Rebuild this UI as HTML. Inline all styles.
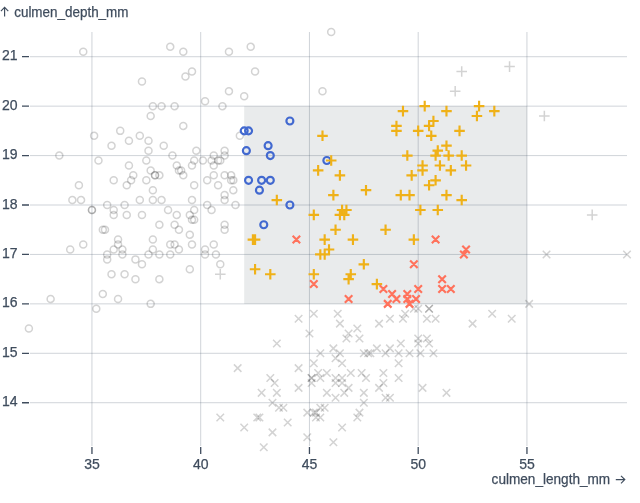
<!DOCTYPE html><html><head><meta charset="utf-8"><style>html,body{margin:0;padding:0;background:#fff;width:640px;height:503px;overflow:hidden}</style></head><body><svg width="640" height="503" viewBox="0 0 640 503" style="display:block;will-change:transform;font-family:'Liberation Sans',sans-serif">
<rect width="640" height="503" fill="#fff"/>
<rect x="244.20" y="106.15" width="282.75" height="197.72" fill="#e9ebec"/>
<path d="M30,402.73H627M30,353.30H627M30,303.87H627M30,254.44H627M30,205.01H627M30,155.58H627M30,106.15H627M30,56.72H627M91.95,32V446M200.70,32V446M309.45,32V446M418.20,32V446M526.95,32V446" stroke="#4b5a6c" stroke-opacity="0.26" fill="none"/>
<path d="M22,402.73H29M22,353.30H29M22,303.87H29M22,254.44H29M22,205.01H29M22,155.58H29M22,106.15H29M22,56.72H29M91.95,447V454M200.70,447V454M309.45,447V454M418.20,447V454M526.95,447V454" stroke="#3f4c5d" stroke-width="1.3" fill="none"/>
<text x="17.5" y="406.33" text-anchor="end" font-size="14" fill="#3f4c5d" stroke="#3f4c5d" stroke-width="0.25">14</text>
<text x="17.5" y="356.90" text-anchor="end" font-size="14" fill="#3f4c5d" stroke="#3f4c5d" stroke-width="0.25">15</text>
<text x="17.5" y="307.47" text-anchor="end" font-size="14" fill="#3f4c5d" stroke="#3f4c5d" stroke-width="0.25">16</text>
<text x="17.5" y="258.04" text-anchor="end" font-size="14" fill="#3f4c5d" stroke="#3f4c5d" stroke-width="0.25">17</text>
<text x="17.5" y="208.61" text-anchor="end" font-size="14" fill="#3f4c5d" stroke="#3f4c5d" stroke-width="0.25">18</text>
<text x="17.5" y="159.18" text-anchor="end" font-size="14" fill="#3f4c5d" stroke="#3f4c5d" stroke-width="0.25">19</text>
<text x="17.5" y="109.75" text-anchor="end" font-size="14" fill="#3f4c5d" stroke="#3f4c5d" stroke-width="0.25">20</text>
<text x="17.5" y="60.32" text-anchor="end" font-size="14" fill="#3f4c5d" stroke="#3f4c5d" stroke-width="0.25">21</text>
<text x="91.95" y="468.6" text-anchor="middle" font-size="14" fill="#3f4c5d" stroke="#3f4c5d" stroke-width="0.25">35</text>
<text x="200.70" y="468.6" text-anchor="middle" font-size="14" fill="#3f4c5d" stroke="#3f4c5d" stroke-width="0.25">40</text>
<text x="309.45" y="468.6" text-anchor="middle" font-size="14" fill="#3f4c5d" stroke="#3f4c5d" stroke-width="0.25">45</text>
<text x="418.20" y="468.6" text-anchor="middle" font-size="14" fill="#3f4c5d" stroke="#3f4c5d" stroke-width="0.25">50</text>
<text x="526.95" y="468.6" text-anchor="middle" font-size="14" fill="#3f4c5d" stroke="#3f4c5d" stroke-width="0.25">55</text>
<text x="14.2" y="16.5" font-size="14" fill="#3f4c5d" stroke="#3f4c5d" stroke-width="0.25" textLength="114.3" lengthAdjust="spacingAndGlyphs">culmen_depth_mm</text>
<path d="M4.6,16.6V7.4M0.9,11.1L4.6,7.4L8.3,11.1" stroke="#3f4c5d" stroke-width="1.15" fill="none"/>
<text x="491.6" y="484.0" font-size="14" fill="#3f4c5d" stroke="#3f4c5d" stroke-width="0.25" textLength="118.6" lengthAdjust="spacingAndGlyphs">culmen_length_mm</text>
<path d="M615.8,479.6H624.8M621,475.8L624.8,479.6L621,483.4" stroke="#3f4c5d" stroke-width="1.15" fill="none"/>
<g fill="none" stroke="#222" stroke-opacity="0.2" stroke-width="1.5"><path d="M184.63,170.41A3.5,3.5,0,1,1,177.63,170.41A3.5,3.5,0,1,1,184.63,170.41Z"/><path d="M193.32,234.67A3.5,3.5,0,1,1,186.32,234.67A3.5,3.5,0,1,1,193.32,234.67Z"/><path d="M210.72,205.01A3.5,3.5,0,1,1,203.72,205.01A3.5,3.5,0,1,1,210.72,205.01Z"/><path d="M132.43,140.75A3.5,3.5,0,1,1,125.43,140.75A3.5,3.5,0,1,1,132.43,140.75Z"/><path d="M188.97,76.49A3.5,3.5,0,1,1,181.97,76.49A3.5,3.5,0,1,1,188.97,76.49Z"/><path d="M180.27,214.90A3.5,3.5,0,1,1,173.27,214.90A3.5,3.5,0,1,1,180.27,214.90Z"/><path d="M186.80,125.92A3.5,3.5,0,1,1,179.80,125.92A3.5,3.5,0,1,1,186.80,125.92Z"/><path d="M75.88,200.07A3.5,3.5,0,1,1,68.88,200.07A3.5,3.5,0,1,1,75.88,200.07Z"/><path d="M247.70,96.26A3.5,3.5,0,1,1,240.70,96.26A3.5,3.5,0,1,1,247.70,96.26Z"/><path d="M156.35,249.50A3.5,3.5,0,1,1,149.35,249.50A3.5,3.5,0,1,1,156.35,249.50Z"/><path d="M156.35,239.61A3.5,3.5,0,1,1,149.35,239.61A3.5,3.5,0,1,1,156.35,239.61Z"/><path d="M228.13,224.78A3.5,3.5,0,1,1,221.13,224.78A3.5,3.5,0,1,1,228.13,224.78Z"/><path d="M173.75,46.83A3.5,3.5,0,1,1,166.75,46.83A3.5,3.5,0,1,1,173.75,46.83Z"/><path d="M86.75,51.78A3.5,3.5,0,1,1,79.75,51.78A3.5,3.5,0,1,1,86.75,51.78Z"/><path d="M130.25,214.90A3.5,3.5,0,1,1,123.25,214.90A3.5,3.5,0,1,1,130.25,214.90Z"/><path d="M175.93,155.58A3.5,3.5,0,1,1,168.93,155.58A3.5,3.5,0,1,1,175.93,155.58Z"/><path d="M258.57,71.55A3.5,3.5,0,1,1,251.57,71.55A3.5,3.5,0,1,1,258.57,71.55Z"/><path d="M82.40,185.24A3.5,3.5,0,1,1,75.40,185.24A3.5,3.5,0,1,1,82.40,185.24Z"/><path d="M334.70,32.01A3.5,3.5,0,1,1,327.70,32.01A3.5,3.5,0,1,1,334.70,32.01Z"/><path d="M156.35,190.18A3.5,3.5,0,1,1,149.35,190.18A3.5,3.5,0,1,1,156.35,190.18Z"/><path d="M154.18,170.41A3.5,3.5,0,1,1,147.18,170.41A3.5,3.5,0,1,1,154.18,170.41Z"/><path d="M115.02,145.69A3.5,3.5,0,1,1,108.02,145.69A3.5,3.5,0,1,1,115.02,145.69Z"/><path d="M165.05,200.07A3.5,3.5,0,1,1,158.05,200.07A3.5,3.5,0,1,1,165.05,200.07Z"/><path d="M178.10,244.55A3.5,3.5,0,1,1,171.10,244.55A3.5,3.5,0,1,1,178.10,244.55Z"/><path d="M101.97,160.52A3.5,3.5,0,1,1,94.97,160.52A3.5,3.5,0,1,1,101.97,160.52Z"/><path d="M217.25,175.35A3.5,3.5,0,1,1,210.25,175.35A3.5,3.5,0,1,1,217.25,175.35Z"/><path d="M215.07,209.95A3.5,3.5,0,1,1,208.07,209.95A3.5,3.5,0,1,1,215.07,209.95Z"/><path d="M158.52,175.35A3.5,3.5,0,1,1,151.52,175.35A3.5,3.5,0,1,1,158.52,175.35Z"/><path d="M215.07,160.52A3.5,3.5,0,1,1,208.07,160.52A3.5,3.5,0,1,1,215.07,160.52Z"/><path d="M193.32,269.27A3.5,3.5,0,1,1,186.32,269.27A3.5,3.5,0,1,1,193.32,269.27Z"/><path d="M143.30,200.07A3.5,3.5,0,1,1,136.30,200.07A3.5,3.5,0,1,1,143.30,200.07Z"/><path d="M193.32,214.90A3.5,3.5,0,1,1,186.32,214.90A3.5,3.5,0,1,1,193.32,214.90Z"/><path d="M223.77,160.52A3.5,3.5,0,1,1,216.77,160.52A3.5,3.5,0,1,1,223.77,160.52Z"/><path d="M125.90,254.44A3.5,3.5,0,1,1,118.90,254.44A3.5,3.5,0,1,1,125.90,254.44Z"/><path d="M186.80,51.78A3.5,3.5,0,1,1,179.80,51.78A3.5,3.5,0,1,1,186.80,51.78Z"/><path d="M178.10,106.15A3.5,3.5,0,1,1,171.10,106.15A3.5,3.5,0,1,1,178.10,106.15Z"/><path d="M152.00,140.75A3.5,3.5,0,1,1,145.00,140.75A3.5,3.5,0,1,1,152.00,140.75Z"/><path d="M199.85,150.64A3.5,3.5,0,1,1,192.85,150.64A3.5,3.5,0,1,1,199.85,150.64Z"/><path d="M128.07,205.01A3.5,3.5,0,1,1,121.07,205.01A3.5,3.5,0,1,1,128.07,205.01Z"/><path d="M221.60,185.24A3.5,3.5,0,1,1,214.60,185.24A3.5,3.5,0,1,1,221.60,185.24Z"/><path d="M117.20,180.30A3.5,3.5,0,1,1,110.20,180.30A3.5,3.5,0,1,1,117.20,180.30Z"/><path d="M138.95,259.38A3.5,3.5,0,1,1,131.95,259.38A3.5,3.5,0,1,1,138.95,259.38Z"/><path d="M195.50,165.47A3.5,3.5,0,1,1,188.50,165.47A3.5,3.5,0,1,1,195.50,165.47Z"/><path d="M228.13,155.58A3.5,3.5,0,1,1,221.13,155.58A3.5,3.5,0,1,1,228.13,155.58Z"/><path d="M149.82,160.52A3.5,3.5,0,1,1,142.82,160.52A3.5,3.5,0,1,1,149.82,160.52Z"/><path d="M117.20,209.95A3.5,3.5,0,1,1,110.20,209.95A3.5,3.5,0,1,1,117.20,209.95Z"/><path d="M254.22,46.83A3.5,3.5,0,1,1,247.22,46.83A3.5,3.5,0,1,1,254.22,46.83Z"/><path d="M195.50,219.84A3.5,3.5,0,1,1,188.50,219.84A3.5,3.5,0,1,1,195.50,219.84Z"/><path d="M206.38,160.52A3.5,3.5,0,1,1,199.38,160.52A3.5,3.5,0,1,1,206.38,160.52Z"/><path d="M95.45,209.95A3.5,3.5,0,1,1,88.45,209.95A3.5,3.5,0,1,1,95.45,209.95Z"/><path d="M84.57,200.07A3.5,3.5,0,1,1,77.57,200.07A3.5,3.5,0,1,1,84.57,200.07Z"/><path d="M234.65,175.35A3.5,3.5,0,1,1,227.65,175.35A3.5,3.5,0,1,1,234.65,175.35Z"/><path d="M182.45,229.73A3.5,3.5,0,1,1,175.45,229.73A3.5,3.5,0,1,1,182.45,229.73Z"/><path d="M217.25,165.47A3.5,3.5,0,1,1,210.25,165.47A3.5,3.5,0,1,1,217.25,165.47Z"/><path d="M128.07,274.21A3.5,3.5,0,1,1,121.07,274.21A3.5,3.5,0,1,1,128.07,274.21Z"/><path d="M152.00,150.64A3.5,3.5,0,1,1,145.00,150.64A3.5,3.5,0,1,1,152.00,150.64Z"/><path d="M110.68,259.38A3.5,3.5,0,1,1,103.68,259.38A3.5,3.5,0,1,1,110.68,259.38Z"/><path d="M232.47,51.78A3.5,3.5,0,1,1,225.47,51.78A3.5,3.5,0,1,1,232.47,51.78Z"/><path d="M152.00,254.44A3.5,3.5,0,1,1,145.00,254.44A3.5,3.5,0,1,1,152.00,254.44Z"/><path d="M228.13,195.12A3.5,3.5,0,1,1,221.13,195.12A3.5,3.5,0,1,1,228.13,195.12Z"/><path d="M125.90,249.50A3.5,3.5,0,1,1,118.90,249.50A3.5,3.5,0,1,1,125.90,249.50Z"/><path d="M239.00,205.01A3.5,3.5,0,1,1,232.00,205.01A3.5,3.5,0,1,1,239.00,205.01Z"/><path d="M106.32,293.98A3.5,3.5,0,1,1,99.32,293.98A3.5,3.5,0,1,1,106.32,293.98Z"/><path d="M228.13,150.64A3.5,3.5,0,1,1,221.13,150.64A3.5,3.5,0,1,1,228.13,150.64Z"/><path d="M115.02,274.21A3.5,3.5,0,1,1,108.02,274.21A3.5,3.5,0,1,1,115.02,274.21Z"/><path d="M243.35,135.81A3.5,3.5,0,1,1,236.35,135.81A3.5,3.5,0,1,1,243.35,135.81Z"/><path d="M62.82,155.58A3.5,3.5,0,1,1,55.82,155.58A3.5,3.5,0,1,1,62.82,155.58Z"/><path d="M197.68,185.24A3.5,3.5,0,1,1,190.68,185.24A3.5,3.5,0,1,1,197.68,185.24Z"/><path d="M195.50,244.55A3.5,3.5,0,1,1,188.50,244.55A3.5,3.5,0,1,1,195.50,244.55Z"/><path d="M106.32,229.73A3.5,3.5,0,1,1,99.32,229.73A3.5,3.5,0,1,1,106.32,229.73Z"/><path d="M223.77,264.33A3.5,3.5,0,1,1,216.77,264.33A3.5,3.5,0,1,1,223.77,264.33Z"/><path d="M143.30,135.81A3.5,3.5,0,1,1,136.30,135.81A3.5,3.5,0,1,1,143.30,135.81Z"/><path d="M121.55,298.93A3.5,3.5,0,1,1,114.55,298.93A3.5,3.5,0,1,1,121.55,298.93Z"/><path d="M86.75,244.55A3.5,3.5,0,1,1,79.75,244.55A3.5,3.5,0,1,1,86.75,244.55Z"/><path d="M132.43,165.47A3.5,3.5,0,1,1,125.43,165.47A3.5,3.5,0,1,1,132.43,165.47Z"/><path d="M97.63,135.81A3.5,3.5,0,1,1,90.63,135.81A3.5,3.5,0,1,1,97.63,135.81Z"/><path d="M145.47,214.90A3.5,3.5,0,1,1,138.47,214.90A3.5,3.5,0,1,1,145.47,214.90Z"/><path d="M232.47,91.32A3.5,3.5,0,1,1,225.47,91.32A3.5,3.5,0,1,1,232.47,91.32Z"/><path d="M123.72,130.87A3.5,3.5,0,1,1,116.72,130.87A3.5,3.5,0,1,1,123.72,130.87Z"/><path d="M136.77,175.35A3.5,3.5,0,1,1,129.77,175.35A3.5,3.5,0,1,1,136.77,175.35Z"/><path d="M167.22,145.69A3.5,3.5,0,1,1,160.22,145.69A3.5,3.5,0,1,1,167.22,145.69Z"/><path d="M180.27,165.47A3.5,3.5,0,1,1,173.27,165.47A3.5,3.5,0,1,1,180.27,165.47Z"/><path d="M110.68,205.01A3.5,3.5,0,1,1,103.68,205.01A3.5,3.5,0,1,1,110.68,205.01Z"/><path d="M228.13,200.07A3.5,3.5,0,1,1,221.13,200.07A3.5,3.5,0,1,1,228.13,200.07Z"/><path d="M73.70,249.50A3.5,3.5,0,1,1,66.70,249.50A3.5,3.5,0,1,1,73.70,249.50Z"/><path d="M195.50,200.07A3.5,3.5,0,1,1,188.50,200.07A3.5,3.5,0,1,1,195.50,200.07Z"/><path d="M121.55,239.61A3.5,3.5,0,1,1,114.55,239.61A3.5,3.5,0,1,1,121.55,239.61Z"/><path d="M221.60,160.52A3.5,3.5,0,1,1,214.60,160.52A3.5,3.5,0,1,1,221.60,160.52Z"/><path d="M162.88,175.35A3.5,3.5,0,1,1,155.88,175.35A3.5,3.5,0,1,1,162.88,175.35Z"/><path d="M210.72,180.30A3.5,3.5,0,1,1,203.72,180.30A3.5,3.5,0,1,1,210.72,180.30Z"/><path d="M54.13,298.93A3.5,3.5,0,1,1,47.13,298.93A3.5,3.5,0,1,1,54.13,298.93Z"/><path d="M95.45,209.95A3.5,3.5,0,1,1,88.45,209.95A3.5,3.5,0,1,1,95.45,209.95Z"/><path d="M225.95,106.15A3.5,3.5,0,1,1,218.95,106.15A3.5,3.5,0,1,1,225.95,106.15Z"/><path d="M154.18,303.87A3.5,3.5,0,1,1,147.18,303.87A3.5,3.5,0,1,1,154.18,303.87Z"/><path d="M156.35,106.15A3.5,3.5,0,1,1,149.35,106.15A3.5,3.5,0,1,1,156.35,106.15Z"/><path d="M158.52,175.35A3.5,3.5,0,1,1,151.52,175.35A3.5,3.5,0,1,1,158.52,175.35Z"/><path d="M197.68,160.52A3.5,3.5,0,1,1,190.68,160.52A3.5,3.5,0,1,1,197.68,160.52Z"/><path d="M173.75,244.55A3.5,3.5,0,1,1,166.75,244.55A3.5,3.5,0,1,1,173.75,244.55Z"/><path d="M165.05,106.15A3.5,3.5,0,1,1,158.05,106.15A3.5,3.5,0,1,1,165.05,106.15Z"/><path d="M162.88,254.44A3.5,3.5,0,1,1,155.88,254.44A3.5,3.5,0,1,1,162.88,254.44Z"/><path d="M162.88,279.15A3.5,3.5,0,1,1,155.88,279.15A3.5,3.5,0,1,1,162.88,279.15Z"/><path d="M326.00,91.32A3.5,3.5,0,1,1,319.00,91.32A3.5,3.5,0,1,1,326.00,91.32Z"/><path d="M197.68,219.84A3.5,3.5,0,1,1,190.68,219.84A3.5,3.5,0,1,1,197.68,219.84Z"/><path d="M195.50,71.55A3.5,3.5,0,1,1,188.50,71.55A3.5,3.5,0,1,1,195.50,71.55Z"/><path d="M173.75,254.44A3.5,3.5,0,1,1,166.75,254.44A3.5,3.5,0,1,1,173.75,254.44Z"/><path d="M145.47,81.44A3.5,3.5,0,1,1,138.47,81.44A3.5,3.5,0,1,1,145.47,81.44Z"/><path d="M110.68,254.44A3.5,3.5,0,1,1,103.68,254.44A3.5,3.5,0,1,1,110.68,254.44Z"/><path d="M228.13,175.35A3.5,3.5,0,1,1,221.13,175.35A3.5,3.5,0,1,1,228.13,175.35Z"/><path d="M121.55,244.55A3.5,3.5,0,1,1,114.55,244.55A3.5,3.5,0,1,1,121.55,244.55Z"/><path d="M154.18,116.04A3.5,3.5,0,1,1,147.18,116.04A3.5,3.5,0,1,1,154.18,116.04Z"/><path d="M208.55,254.44A3.5,3.5,0,1,1,201.55,254.44A3.5,3.5,0,1,1,208.55,254.44Z"/><path d="M234.65,180.30A3.5,3.5,0,1,1,227.65,180.30A3.5,3.5,0,1,1,234.65,180.30Z"/><path d="M99.80,308.81A3.5,3.5,0,1,1,92.80,308.81A3.5,3.5,0,1,1,99.80,308.81Z"/><path d="M217.25,155.58A3.5,3.5,0,1,1,210.25,155.58A3.5,3.5,0,1,1,217.25,155.58Z"/><path d="M178.10,224.78A3.5,3.5,0,1,1,171.10,224.78A3.5,3.5,0,1,1,178.10,224.78Z"/><path d="M236.82,190.18A3.5,3.5,0,1,1,229.82,190.18A3.5,3.5,0,1,1,236.82,190.18Z"/><path d="M182.45,249.50A3.5,3.5,0,1,1,175.45,249.50A3.5,3.5,0,1,1,182.45,249.50Z"/><path d="M171.57,209.95A3.5,3.5,0,1,1,164.57,209.95A3.5,3.5,0,1,1,171.57,209.95Z"/><path d="M134.60,180.30A3.5,3.5,0,1,1,127.60,180.30A3.5,3.5,0,1,1,134.60,180.30Z"/><path d="M149.82,180.30A3.5,3.5,0,1,1,142.82,180.30A3.5,3.5,0,1,1,149.82,180.30Z"/><path d="M162.88,224.78A3.5,3.5,0,1,1,155.88,224.78A3.5,3.5,0,1,1,162.88,224.78Z"/><path d="M228.13,229.73A3.5,3.5,0,1,1,221.13,229.73A3.5,3.5,0,1,1,228.13,229.73Z"/><path d="M108.50,229.73A3.5,3.5,0,1,1,101.50,229.73A3.5,3.5,0,1,1,108.50,229.73Z"/><path d="M208.55,101.21A3.5,3.5,0,1,1,201.55,101.21A3.5,3.5,0,1,1,208.55,101.21Z"/><path d="M138.95,279.15A3.5,3.5,0,1,1,131.95,279.15A3.5,3.5,0,1,1,138.95,279.15Z"/><path d="M197.68,209.95A3.5,3.5,0,1,1,190.68,209.95A3.5,3.5,0,1,1,197.68,209.95Z"/><path d="M208.55,249.50A3.5,3.5,0,1,1,201.55,249.50A3.5,3.5,0,1,1,208.55,249.50Z"/><path d="M217.25,244.55A3.5,3.5,0,1,1,210.25,244.55A3.5,3.5,0,1,1,217.25,244.55Z"/><path d="M32.38,328.59A3.5,3.5,0,1,1,25.38,328.59A3.5,3.5,0,1,1,32.38,328.59Z"/><path d="M219.43,254.44A3.5,3.5,0,1,1,212.43,254.44A3.5,3.5,0,1,1,219.43,254.44Z"/><path d="M145.47,264.33A3.5,3.5,0,1,1,138.47,264.33A3.5,3.5,0,1,1,145.47,264.33Z"/><path d="M182.45,170.41A3.5,3.5,0,1,1,175.45,170.41A3.5,3.5,0,1,1,182.45,170.41Z"/><path d="M186.80,175.35A3.5,3.5,0,1,1,179.80,175.35A3.5,3.5,0,1,1,186.80,175.35Z"/><path d="M130.25,185.24A3.5,3.5,0,1,1,123.25,185.24A3.5,3.5,0,1,1,130.25,185.24Z"/><path d="M117.20,214.90A3.5,3.5,0,1,1,110.20,214.90A3.5,3.5,0,1,1,117.20,214.90Z"/><path d="M156.35,200.07A3.5,3.5,0,1,1,149.35,200.07A3.5,3.5,0,1,1,156.35,200.07Z"/><path d="M117.20,249.50A3.5,3.5,0,1,1,110.20,249.50A3.5,3.5,0,1,1,117.20,249.50Z"/><path d="M236.82,180.30A3.5,3.5,0,1,1,229.82,180.30A3.5,3.5,0,1,1,236.82,180.30Z"/><path d="M449.89,91.32L460.46,91.32M455.18,96.61L455.18,86.03"/><path d="M586.91,214.90L597.49,214.90M592.20,220.18L592.20,209.61"/><path d="M214.99,274.21L225.56,274.21M220.27,279.50L220.27,268.92"/><path d="M504.26,66.61L514.84,66.61M509.55,71.89L509.55,61.32"/><path d="M456.41,71.55L466.99,71.55M461.70,76.84L461.70,66.26"/><path d="M539.06,116.04L549.64,116.04M544.35,121.32L544.35,110.75"/><path d="M329.62,438.52L337.13,446.03M329.62,446.03L337.13,438.52"/><path d="M386.17,394.03L393.68,401.54M386.17,401.54L393.68,394.03"/><path d="M414.45,339.66L421.95,347.17M414.45,347.17L421.95,339.66"/><path d="M362.25,374.26L369.75,381.77M362.25,381.77L369.75,374.26"/><path d="M338.32,423.69L345.83,431.20M338.32,431.20L345.83,423.69"/><path d="M314.40,369.32L321.90,376.83M314.40,376.83L321.90,369.32"/><path d="M342.67,334.72L350.18,342.22M342.67,342.22L350.18,334.72"/><path d="M268.72,428.63L276.23,436.14M268.72,436.14L276.23,428.63"/><path d="M344.85,329.77L352.35,337.28M344.85,337.28L352.35,329.77"/><path d="M216.52,413.81L224.03,421.31M216.52,421.31L224.03,413.81"/><path d="M316.57,413.81L324.08,421.31M316.57,421.31L324.08,413.81"/><path d="M379.65,369.32L387.15,376.83M379.65,376.83L387.15,369.32"/><path d="M323.10,369.32L330.60,376.83M323.10,376.83L330.60,369.32"/><path d="M399.22,314.95L406.73,322.45M399.22,322.45L406.73,314.95"/><path d="M240.45,423.69L247.95,431.20M240.45,431.20L247.95,423.69"/><path d="M397.05,339.66L404.55,347.17M397.05,347.17L404.55,339.66"/><path d="M331.80,374.26L339.30,381.77M331.80,381.77L339.30,374.26"/><path d="M386.17,344.60L393.68,352.11M386.17,352.11L393.68,344.60"/><path d="M418.80,384.15L426.30,391.65M418.80,391.65L426.30,384.15"/><path d="M307.87,374.26L315.38,381.77M307.87,381.77L315.38,374.26"/><path d="M338.32,374.26L345.83,381.77M338.32,381.77L345.83,374.26"/><path d="M333.97,310.00L341.48,317.51M333.97,317.51L341.48,310.00"/><path d="M260.02,443.46L267.53,450.97M260.02,450.97L267.53,443.46"/><path d="M329.62,344.60L337.13,352.11M329.62,352.11L337.13,344.60"/><path d="M294.82,384.15L302.33,391.65M294.82,391.65L302.33,384.15"/><path d="M366.60,349.55L374.10,357.05M366.60,357.05L374.10,349.55"/><path d="M375.30,384.15L382.80,391.65M375.30,391.65L382.80,384.15"/><path d="M414.45,334.72L421.95,342.22M414.45,342.22L421.95,334.72"/><path d="M355.72,334.72L363.23,342.22M355.72,342.22L363.23,334.72"/><path d="M257.85,389.09L265.35,396.60M257.85,396.60L265.35,389.09"/><path d="M307.87,374.26L315.38,381.77M307.87,381.77L315.38,374.26"/><path d="M623.25,250.69L630.75,258.19M623.25,258.19L630.75,250.69"/><path d="M394.87,359.43L402.38,366.94M394.87,366.94L402.38,359.43"/><path d="M253.50,413.81L261.00,421.31M253.50,421.31L261.00,413.81"/><path d="M283.95,418.75L291.45,426.26M283.95,426.26L291.45,418.75"/><path d="M386.17,314.95L393.68,322.45M386.17,322.45L393.68,314.95"/><path d="M255.67,413.81L263.18,421.31M255.67,421.31L263.18,413.81"/><path d="M312.22,413.81L319.73,421.31M312.22,421.31L319.73,413.81"/><path d="M405.75,349.55L413.25,357.05M405.75,357.05L413.25,349.55"/><path d="M425.32,305.06L432.83,312.57M425.32,312.57L432.83,305.06"/><path d="M275.25,403.92L282.75,411.43M275.25,411.43L282.75,403.92"/><path d="M316.57,403.92L324.08,411.43M316.57,411.43L324.08,403.92"/><path d="M425.32,305.06L432.83,312.57M425.32,312.57L432.83,305.06"/><path d="M303.52,433.58L311.03,441.08M303.52,441.08L311.03,433.58"/><path d="M310.05,310.00L317.55,317.51M310.05,317.51L317.55,310.00"/><path d="M340.50,389.09L348.00,396.60M340.50,396.60L348.00,389.09"/><path d="M381.82,394.03L389.33,401.54M381.82,401.54L389.33,394.03"/><path d="M307.87,379.20L315.38,386.71M307.87,386.71L315.38,379.20"/><path d="M416.62,349.55L424.13,357.05M416.62,357.05L424.13,349.55"/><path d="M338.32,379.20L345.83,386.71M338.32,386.71L345.83,379.20"/><path d="M305.70,329.77L313.20,337.28M305.70,337.28L313.20,329.77"/><path d="M279.60,403.92L287.10,411.43M279.60,411.43L287.10,403.92"/><path d="M316.57,349.55L324.08,357.05M316.57,357.05L324.08,349.55"/><path d="M266.55,374.26L274.05,381.77M266.55,381.77L274.05,374.26"/><path d="M423.15,334.72L430.65,342.22M423.15,342.22L430.65,334.72"/><path d="M312.22,408.86L319.73,416.37M312.22,416.37L319.73,408.86"/><path d="M331.80,354.49L339.30,362.00M331.80,362.00L339.30,354.49"/><path d="M320.92,403.92L328.43,411.43M320.92,411.43L328.43,403.92"/><path d="M507.97,314.95L515.48,322.45M507.97,322.45L515.48,314.95"/><path d="M323.10,389.09L330.60,396.60M323.10,396.60L330.60,389.09"/><path d="M331.80,379.20L339.30,386.71M331.80,386.71L339.30,379.20"/><path d="M273.07,389.09L280.58,396.60M273.07,396.60L280.58,389.09"/><path d="M429.67,349.55L437.18,357.05M429.67,357.05L437.18,349.55"/><path d="M364.42,349.55L371.93,357.05M364.42,357.05L371.93,349.55"/><path d="M336.15,319.89L343.65,327.40M336.15,327.40L343.65,319.89"/><path d="M375.30,319.89L382.80,327.40M375.30,327.40L382.80,319.89"/><path d="M338.32,359.43L345.83,366.94M338.32,366.94L345.83,359.43"/><path d="M336.15,349.55L343.65,357.05M336.15,357.05L343.65,349.55"/><path d="M360.07,389.09L367.58,396.60M360.07,396.60L367.58,389.09"/><path d="M310.05,408.86L317.55,416.37M310.05,416.37L317.55,408.86"/><path d="M394.87,374.26L402.38,381.77M394.87,381.77L402.38,374.26"/><path d="M468.82,319.89L476.33,327.40M468.82,327.40L476.33,319.89"/><path d="M357.90,369.32L365.40,376.83M357.90,376.83L365.40,369.32"/><path d="M414.45,305.06L421.95,312.57M414.45,312.57L421.95,305.06"/><path d="M303.52,408.86L311.03,416.37M303.52,416.37L311.03,408.86"/><path d="M270.90,379.20L278.40,386.71M270.90,386.71L278.40,379.20"/><path d="M442.72,389.09L450.23,396.60M442.72,396.60L450.23,389.09"/><path d="M360.07,398.98L367.58,406.48M360.07,406.48L367.58,398.98"/><path d="M360.07,349.55L367.58,357.05M360.07,357.05L367.58,349.55"/><path d="M316.57,374.26L324.08,381.77M316.57,381.77L324.08,374.26"/><path d="M294.82,364.38L302.33,371.88M294.82,371.88L302.33,364.38"/><path d="M431.85,314.95L439.35,322.45M431.85,322.45L439.35,314.95"/><path d="M401.40,310.00L408.90,317.51M401.40,317.51L408.90,310.00"/><path d="M347.02,369.32L354.53,376.83M347.02,376.83L354.53,369.32"/><path d="M379.65,379.20L387.15,386.71M379.65,386.71L387.15,379.20"/><path d="M381.82,349.55L389.33,357.05M381.82,357.05L389.33,349.55"/><path d="M542.77,250.69L550.28,258.19M542.77,258.19L550.28,250.69"/><path d="M353.55,324.83L361.05,332.34M353.55,332.34L361.05,324.83"/><path d="M394.87,349.55L402.38,357.05M394.87,357.05L402.38,349.55"/><path d="M355.72,408.86L363.23,416.37M355.72,416.37L363.23,408.86"/><path d="M233.92,364.38L241.43,371.88M233.92,371.88L241.43,364.38"/><path d="M488.40,310.00L495.90,317.51M488.40,317.51L495.90,310.00"/><path d="M268.72,398.98L276.23,406.48M268.72,406.48L276.23,398.98"/><path d="M373.12,344.60L380.63,352.11M373.12,352.11L380.63,344.60"/><path d="M425.32,339.66L432.83,347.17M425.32,347.17L432.83,339.66"/><path d="M410.10,305.06L417.60,312.57M410.10,312.57L417.60,305.06"/><path d="M273.07,339.66L280.58,347.17M273.07,347.17L280.58,339.66"/><path d="M331.80,394.03L339.30,401.54M331.80,401.54L339.30,394.03"/><path d="M525.37,300.12L532.88,307.62M525.37,307.62L532.88,300.12"/><path d="M294.82,314.95L302.33,322.45M294.82,322.45L302.33,314.95"/><path d="M353.55,413.81L361.05,421.31M353.55,421.31L361.05,413.81"/><path d="M344.85,384.15L352.35,391.65M344.85,391.65L352.35,384.15"/><path d="M423.15,314.95L430.65,322.45M423.15,322.45L430.65,314.95"/><path d="M310.05,359.43L317.55,366.94M310.05,366.94L317.55,359.43"/></g>
<path d="M252.05,180.30A3.5,3.5,0,1,1,245.05,180.30A3.5,3.5,0,1,1,252.05,180.30ZM293.38,120.98A3.5,3.5,0,1,1,286.38,120.98A3.5,3.5,0,1,1,293.38,120.98ZM247.70,130.87A3.5,3.5,0,1,1,240.70,130.87A3.5,3.5,0,1,1,247.70,130.87ZM330.35,160.52A3.5,3.5,0,1,1,323.35,160.52A3.5,3.5,0,1,1,330.35,160.52ZM265.10,180.30A3.5,3.5,0,1,1,258.10,180.30A3.5,3.5,0,1,1,265.10,180.30ZM249.88,150.64A3.5,3.5,0,1,1,242.88,150.64A3.5,3.5,0,1,1,249.88,150.64ZM267.27,224.78A3.5,3.5,0,1,1,260.27,224.78A3.5,3.5,0,1,1,267.27,224.78ZM273.80,180.30A3.5,3.5,0,1,1,266.80,180.30A3.5,3.5,0,1,1,273.80,180.30ZM273.80,155.58A3.5,3.5,0,1,1,266.80,155.58A3.5,3.5,0,1,1,273.80,155.58ZM252.05,130.87A3.5,3.5,0,1,1,245.05,130.87A3.5,3.5,0,1,1,252.05,130.87ZM262.93,190.18A3.5,3.5,0,1,1,255.93,190.18A3.5,3.5,0,1,1,262.93,190.18ZM293.38,205.01A3.5,3.5,0,1,1,286.38,205.01A3.5,3.5,0,1,1,293.38,205.01ZM271.62,145.69A3.5,3.5,0,1,1,264.62,145.69A3.5,3.5,0,1,1,271.62,145.69Z" fill="none" stroke="#4269d0" stroke-width="2.15"/>
<path d="M336.79,209.95L347.36,209.95M342.07,215.24L342.07,204.66M412.91,130.87L423.49,130.87M418.20,136.15L418.20,125.58M441.19,145.69L451.76,145.69M446.47,150.98L446.47,140.41M312.86,170.41L323.44,170.41M318.15,175.70L318.15,165.12M471.64,116.04L482.21,116.04M476.93,121.32L476.93,110.75M308.51,214.90L319.09,214.90M313.80,220.18L313.80,209.61M328.09,195.12L338.66,195.12M333.38,200.41L333.38,189.84M441.19,195.12L451.76,195.12M446.47,200.41L446.47,189.84M325.91,160.52L336.49,160.52M331.20,165.81L331.20,155.23M441.19,111.09L451.76,111.09M446.47,116.38L446.47,105.80M338.96,214.90L349.54,214.90M344.25,220.18L344.25,209.61M347.66,239.61L358.24,239.61M352.95,244.90L352.95,234.32M456.41,200.07L466.99,200.07M461.70,205.36L461.70,194.78M323.74,249.50L334.31,249.50M329.02,254.79L329.02,244.21M423.79,125.92L434.36,125.92M429.07,131.21L429.07,120.63M419.44,106.15L430.01,106.15M424.72,111.44L424.72,100.86M334.61,175.35L345.19,175.35M339.90,180.64L339.90,170.06M395.51,195.12L406.09,195.12M400.80,200.41L400.80,189.84M247.61,239.61L258.19,239.61M252.90,244.90L252.90,234.32M380.29,229.73L390.86,229.73M385.57,235.01L385.57,224.44M265.01,274.21L275.59,274.21M270.30,279.50L270.30,268.92M425.96,135.81L436.54,135.81M431.25,141.10L431.25,130.52M341.14,209.95L351.71,209.95M346.43,215.24L346.43,204.66M456.41,155.58L466.99,155.58M461.70,160.87L461.70,150.29M423.79,185.24L434.36,185.24M429.07,190.53L429.07,179.95M402.04,155.58L412.61,155.58M407.32,160.87L407.32,150.29M334.61,214.90L345.19,214.90M339.90,220.18L339.90,209.61M473.81,106.15L484.39,106.15M479.10,111.44L479.10,100.86M249.79,269.27L260.36,269.27M255.07,274.56L255.07,263.98M434.66,165.47L445.24,165.47M439.95,170.75L439.95,160.18M406.39,175.35L416.96,175.35M411.68,180.64L411.68,170.06M358.54,264.33L369.11,264.33M363.82,269.61L363.82,259.04M360.71,190.18L371.29,190.18M366.00,195.47L366.00,184.89M345.49,274.21L356.06,274.21M350.77,279.50L350.77,268.92M489.04,111.09L499.61,111.09M494.32,116.38L494.32,105.80M391.16,130.87L401.74,130.87M396.45,136.15L396.45,125.58M330.26,229.73L340.84,229.73M335.55,235.01L335.55,224.44M432.49,150.64L443.06,150.64M437.77,155.93L437.77,145.35M315.04,254.44L325.61,254.44M320.32,259.73L320.32,249.15M432.49,209.95L443.06,209.95M437.77,215.24L437.77,204.66M430.31,180.30L440.89,180.30M435.60,185.58L435.60,175.01M415.09,209.95L425.66,209.95M420.38,215.24L420.38,204.66M391.16,125.92L401.74,125.92M396.45,131.21L396.45,120.63M445.54,170.41L456.11,170.41M450.82,175.70L450.82,165.12M408.56,239.61L419.14,239.61M413.85,244.90L413.85,234.32M371.59,284.10L382.16,284.10M376.88,289.39L376.88,278.81M443.36,155.58L453.94,155.58M448.65,160.87L448.65,150.29M319.39,239.61L329.96,239.61M324.68,244.90L324.68,234.32M428.14,120.98L438.71,120.98M433.43,126.27L433.43,115.69M249.79,239.61L260.36,239.61M255.07,244.90L255.07,234.32M460.76,165.47L471.34,165.47M466.05,170.75L466.05,160.18M308.51,274.21L319.09,274.21M313.80,279.50L313.80,268.92M397.69,111.09L408.26,111.09M402.97,116.38L402.97,105.80M417.26,165.47L427.84,165.47M422.55,170.75L422.55,160.18M317.21,135.81L327.79,135.81M322.50,141.10L322.50,130.52M454.24,130.87L464.81,130.87M459.52,136.15L459.52,125.58M343.31,279.15L353.89,279.15M348.60,284.44L348.60,273.87M319.39,254.44L329.96,254.44M324.68,259.73L324.68,249.15M271.54,200.07L282.11,200.07M276.82,205.36L276.82,194.78M404.21,195.12L414.79,195.12M409.50,200.41L409.50,189.84M430.31,155.58L440.89,155.58M435.60,160.87L435.60,150.29M417.26,170.41L427.84,170.41M422.55,175.70L422.55,165.12" fill="none" stroke="#efb118" stroke-width="2.15"/>
<path d="M414.45,285.29L421.95,292.79M414.45,292.79L421.95,285.29M392.70,295.17L400.20,302.68M392.70,302.68L400.20,295.17M379.65,285.29L387.15,292.79M379.65,292.79L387.15,285.29M292.65,235.86L300.15,243.36M292.65,243.36L300.15,235.86M405.75,300.12L413.25,307.62M405.75,307.62L413.25,300.12M410.10,260.57L417.60,268.08M410.10,268.08L417.60,260.57M403.57,290.23L411.08,297.74M403.57,297.74L411.08,290.23M384.00,300.12L391.50,307.62M384.00,307.62L391.50,300.12M438.37,285.29L445.88,292.79M438.37,292.79L445.88,285.29M310.05,280.34L317.55,287.85M310.05,287.85L317.55,280.34M431.85,235.86L439.35,243.36M431.85,243.36L439.35,235.86M460.12,250.69L467.63,258.19M460.12,258.19L467.63,250.69M462.30,245.74L469.80,253.25M462.30,253.25L469.80,245.74M403.57,295.17L411.08,302.68M403.57,302.68L411.08,295.17M438.37,275.40L445.88,282.91M438.37,282.91L445.88,275.40M344.85,295.17L352.35,302.68M344.85,302.68L352.35,295.17M447.07,285.29L454.58,292.79M447.07,292.79L454.58,285.29M388.35,290.23L395.85,297.74M388.35,297.74L395.85,290.23M412.27,295.17L419.78,302.68M412.27,302.68L419.78,295.17" fill="none" stroke="#ff725c" stroke-width="2.15"/>
</svg></body></html>
